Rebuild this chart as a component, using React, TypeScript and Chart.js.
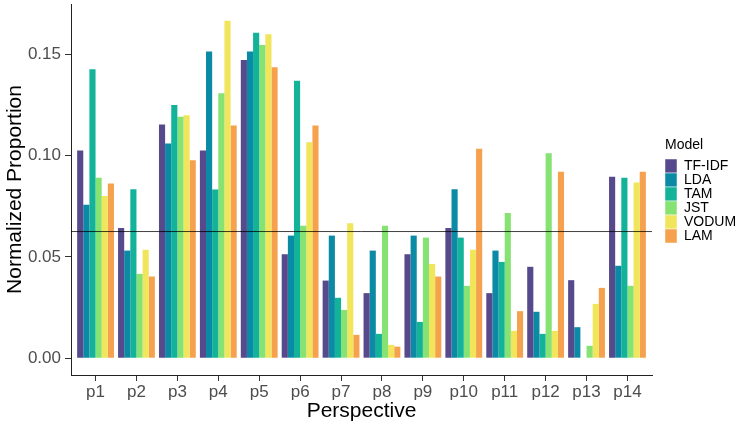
import React, { useEffect, useRef } from "react";
import { Chart, registerables } from "chart.js";

Chart.register(...registerables);

const categories = ["p1", "p2", "p3", "p4", "p5", "p6", "p7", "p8", "p9", "p10", "p11", "p12", "p13", "p14"];
const models = ["TF-IDF", "LDA", "TAM", "JST", "VODUM", "LAM"];
const colors = ["#56498c", "#0a8aa5", "#13b39a", "#86e272", "#f0e55b", "#f5a14d"];

const tfidf = [0.1025, 0.0642, 0.1153, 0.1025, 0.1472, 0.0513, 0.0383, 0.0321, 0.0513, 0.0642, 0.0321, 0.0451, 0.0385, 0.0896];
const lda = [0.0757, 0.0531, 0.1059, 0.1513, 0.1513, 0.0605, 0.0605, 0.0531, 0.0605, 0.0834, 0.0531, 0.0229, 0.0153, 0.0456];
const tam = [0.1426, 0.0834, 0.1249, 0.0832, 0.1606, 0.1369, 0.0298, 0.0120, 0.0179, 0.0595, 0.0475, 0.0120, 0.0, 0.0891];
const jst = [0.0891, 0.0416, 0.1191, 0.1308, 0.1546, 0.0653, 0.0238, 0.0653, 0.0595, 0.0357, 0.0716, 0.1012, 0.0061, 0.0357];
const vodum = [0.0801, 0.0535, 0.1199, 0.1665, 0.1599, 0.1066, 0.0666, 0.0066, 0.0465, 0.0535, 0.0135, 0.0135, 0.0268, 0.0867];
const lam = [0.0862, 0.0403, 0.0977, 0.1148, 0.1436, 0.1148, 0.0115, 0.0057, 0.0403, 0.1033, 0.0232, 0.0920, 0.0347, 0.0920];
const seriesValues = [tfidf, lda, tam, jst, vodum, lam];

const referenceLine = 0.0625;
const yTicks = [0, 0.05, 0.1, 0.15];
const xTitle = "Perspective";
const yTitle = "Normalized Proportion";
const legendTitle = "Model";

const FONT = '"Liberation Sans", Arial, Helvetica, sans-serif';

const annotPlugin = {
  id: "annot",
  afterDraw(chart: any) {
    const ctx = chart.ctx as CanvasRenderingContext2D;
    const a = chart.chartArea;
    ctx.save();
    ctx.fillStyle = "#000";
    ctx.font = `21px ${FONT}`;
    ctx.textAlign = "center";
    ctx.textBaseline = "alphabetic";
    ctx.fillText(xTitle, (a.left + a.right) / 2, 416.5);
    ctx.save();
    ctx.translate(20.5, (a.top + a.bottom) / 2);
    ctx.rotate(-Math.PI / 2);
    ctx.fillText(yTitle, 0, 0);
    ctx.restore();

    // legend
    ctx.textAlign = "left";
    ctx.font = `14px ${FONT}`;
    ctx.fillText(legendTitle, 665, 148.5);
    ctx.textBaseline = "middle";
    models.forEach((m, k) => {
      const top = 159 + 14 * k;
      ctx.fillStyle = colors[k];
      ctx.fillRect(665, top, 12, 14);
      ctx.strokeStyle = "rgba(255,255,255,0.8)";
      ctx.lineWidth = 0.6;
      ctx.strokeRect(665, top, 12, 14);
      ctx.fillStyle = "#000";
      ctx.fillText(m, 684, top + 7.5);
    });
    ctx.restore();
  },
};

export default function App() {
  const ref = useRef<HTMLCanvasElement | null>(null);

  useEffect(() => {
    document.body.style.margin = "0";
    if (!ref.current) return;
    Chart.defaults.font.family = FONT;
    const barSets = models.map((m, k) => ({
      type: "bar" as const,
      label: m,
      data: seriesValues[k].map((v, i) => ({ x: i + 1, y: v })),
      backgroundColor: colors[k],
      borderWidth: 0,
      categoryPercentage: 0.9,
      barPercentage: 1.0,
      order: 1,
      grouped: true,
    }));
    const lineSet = {
      type: "line" as const,
      label: "ref",
      data: [
        { x: 0.4, y: referenceLine },
        { x: categories.length + 0.6, y: referenceLine },
      ],
      borderColor: "rgba(0,0,0,0.75)",
      borderWidth: 1,
      pointRadius: 0,
      fill: false,
      order: 0,
    };
    const chart = new Chart(ref.current, {
      type: "bar",
      data: { datasets: [lineSet as any, ...barSets] },
      options: {
        animation: false,
        responsive: false,
        devicePixelRatio: 1,
        layout: { padding: { top: 4, right: 95, left: 0, bottom: 0 } },
        plugins: { legend: { display: false }, tooltip: { enabled: false } },
        scales: {
          x: {
            type: "linear",
            min: 0.4,
            max: categories.length + 0.6,
            offset: false,
            afterBuildTicks: (s: any) => {
              s.ticks = categories.map((_, i) => ({ value: i + 1 }));
            },
            afterFit: (s: any) => {
              s.height = 52;
              s.paddingLeft = 0;
              s.paddingRight = 0;
            },
            ticks: {
              autoSkip: false,
              maxRotation: 0,
              color: "#4d4d4d",
              font: { size: 17 },
              padding: 1,
              callback: (v: any) => categories[Math.round(Number(v)) - 1] ?? "",
            },
            grid: { display: true, offset: false, drawOnChartArea: false, drawTicks: true, tickLength: 6, color: "#333" },
            border: { display: true, color: "#222", width: 1 },
          },
          y: {
            type: "linear",
            min: -0.0083,
            max: 0.1748,
            afterBuildTicks: (s: any) => {
              s.ticks = yTicks.map((v) => ({ value: v }));
            },
            afterFit: (s: any) => {
              s.width = 71;
              s.paddingTop = 0;
              s.paddingBottom = 0;
            },
            ticks: {
              color: "#4d4d4d",
              font: { size: 17 },
              padding: 4,
              callback: (v: any) => Number(v).toFixed(2),
            },
            grid: { display: true, offset: false, drawOnChartArea: false, drawTicks: true, tickLength: 6, color: "#333" },
            border: { display: true, color: "#222", width: 1 },
          },
        },
      },
      plugins: [annotPlugin],
    });
    return () => chart.destroy();
  }, []);

  return (
    <div style={{ width: 747, height: 427, background: "#fff" }}>
      <canvas ref={ref} width={747} height={427} style={{ display: "block" }} />
    </div>
  );
}
